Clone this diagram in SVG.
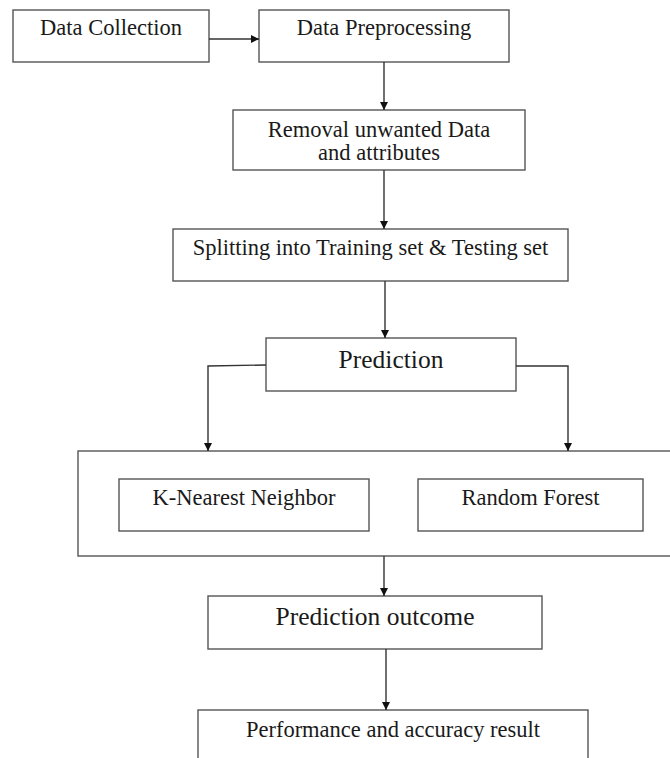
<svg xmlns="http://www.w3.org/2000/svg" width="670" height="758" viewBox="0 0 670 758">
<style>
.box{fill:#fff;stroke:#555;stroke-width:1.4}
.t{font-family:"Liberation Serif","Times New Roman",serif;font-size:22.5px;fill:#1a1a1a;text-anchor:middle}
.tl{font-size:25.5px}
.c{fill:none;stroke:#333;stroke-width:1.4}
</style>
<defs>
<marker id="ah" markerUnits="userSpaceOnUse" markerWidth="8" markerHeight="8" refX="8" refY="4" orient="auto">
<path d="M0,0 L8,4 L0,8 z" fill="#111"/>
</marker>
</defs>
<rect width="670" height="758" fill="#fff"/>
<g id="outer"><rect class="box" x="78" y="451" width="594" height="105"/></g>
<g id="data-collection"><rect class="box" x="13" y="10" width="196" height="52"/><text class="t" x="111" y="35">Data Collection</text></g>
<g id="data-preprocessing"><rect class="box" x="259" y="10" width="250" height="52"/><text class="t" x="384" y="35">Data Preprocessing</text></g>
<g id="removal"><rect class="box" x="233" y="110" width="292" height="60"/><text class="t" x="379" y="137">Removal unwanted Data</text><text class="t" x="379" y="160">and attributes</text></g>
<g id="splitting"><rect class="box" x="173" y="229" width="395" height="52"/><text class="t" x="370.5" y="255">Splitting into Training set &amp; Testing set</text></g>
<g id="prediction"><rect class="box" x="266" y="338" width="250" height="53"/><text class="t tl" x="391" y="368">Prediction</text></g>
<g id="knn"><rect class="box" x="119" y="479" width="250" height="52"/><text class="t" x="244" y="505">K-Nearest Neighbor</text></g>
<g id="random-forest"><rect class="box" x="418" y="479" width="225" height="52"/><text class="t" x="530.5" y="505">Random Forest</text></g>
<g id="prediction-outcome"><rect class="box" x="208" y="596" width="334" height="53"/><text class="t tl" x="375" y="625">Prediction outcome</text></g>
<g id="performance"><rect class="box" x="198" y="710" width="390" height="60"/><text class="t" x="393" y="737">Performance and accuracy result</text></g>
<g id="connectors">
<line class="c" x1="209" y1="39" x2="259" y2="39" marker-end="url(#ah)"/>
<line class="c" x1="384" y1="62" x2="384" y2="110" marker-end="url(#ah)"/>
<line class="c" x1="384" y1="170" x2="384" y2="229" marker-end="url(#ah)"/>
<line class="c" x1="385" y1="281" x2="385" y2="338" marker-end="url(#ah)"/>
<polyline class="c" points="266,365 208,366 208,451" marker-end="url(#ah)"/>
<polyline class="c" points="516,366 568,366 568,451" marker-end="url(#ah)"/>
<line class="c" x1="384" y1="556" x2="384" y2="596" marker-end="url(#ah)"/>
<line class="c" x1="386" y1="649" x2="386" y2="710" marker-end="url(#ah)"/>
</g>
</svg>
